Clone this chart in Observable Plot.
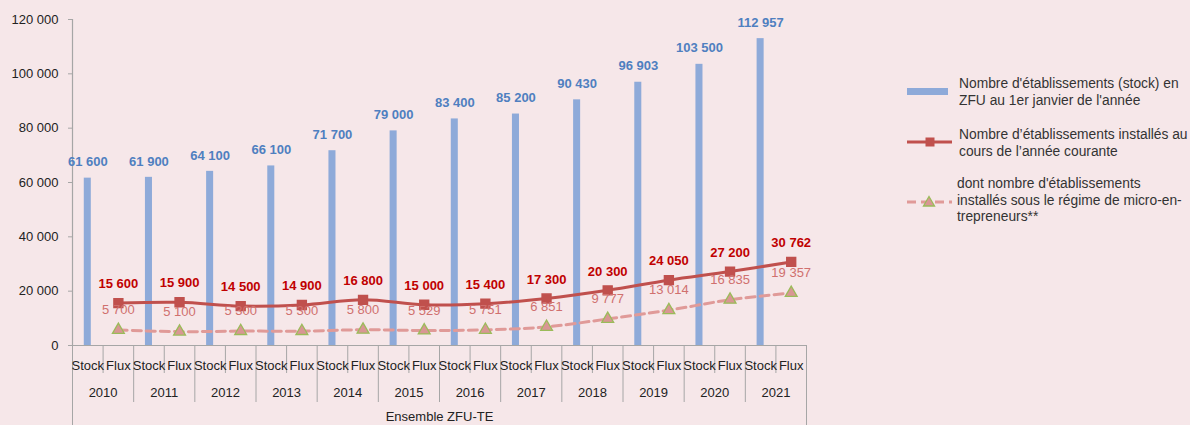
<!DOCTYPE html>
<html>
<head>
<meta charset="utf-8">
<script src="https://cdn.jsdelivr.net/npm/d3@7"></script>
<script src="https://cdn.jsdelivr.net/npm/@observablehq/plot@0.6"></script>
<style>
  html, body { margin: 0; padding: 0; background: #f6e7e9; }
  #wrap { position: relative; width: 1190px; height: 425px; overflow: hidden; background: #f6e7e9; font-family: "Liberation Sans", Arial, sans-serif; }
  #legend { position: absolute; left: 905px; top: 0; width: 285px; font-size: 13.8px; color: #333; line-height: 16.5px; }
  .item { position: absolute; left: 0; width: 285px; }
  .item svg { position: absolute; left: 0; }
  .item div { position: absolute; left: 53px; white-space: nowrap; }
</style>
</head>
<body>
<div id="wrap">
  <div id="chart"></div>
  <div id="legend"></div>
</div>
<script>
// ---- data ----
const years = [2010, 2011, 2012, 2013, 2014, 2015, 2016, 2017, 2018, 2019, 2020, 2021];
const stock = [61600, 61900, 64100, 66100, 71700, 79000, 83400, 85200, 90430, 96903, 103500, 112957];
const flux = [15600, 15900, 14500, 14900, 16800, 15000, 15400, 17300, 20300, 24050, 27200, 30762];
const micro = [5700, 5100, 5300, 5300, 5800, 5529, 5751, 6851, 9777, 13014, 16835, 19357];
const slotLabels = ["Stock", "Flux"];
const groupLabel = "Ensemble ZFU-TE";
const yTicks = [0, 20000, 40000, 60000, 80000, 100000, 120000];
const legendLabels = [
  "Nombre d'établissements (stock) en<br>ZFU au 1er janvier de l'année",
  "Nombre d’établissements installés au<br>cours de l’année courante",
  "dont nombre d'établissements<br>installés sous le régime de micro-en-<br>trepreneurs**"
];

// ---- styles ----
const C = {
  bar: "#8eaad9", barLabel: "#4f7fc0",
  red: "#c0504d", redLabel: "#c00000",
  pink: "#e09a98", pinkLabel: "#d0706e",
  triFill: "#d99694", triStroke: "#9bbb59",
  axis: "#a6a6a6", text: "#222"
};
const fmt = d => d3.format(",")(d).replace(/,/g, " ");

const rows = years.map((y, i) => ({
  year: y, i,
  xs: 2 * i + 0.5, xf: 2 * i + 1.5,
  stock: stock[i], flux: flux[i], micro: micro[i]
}));
const slots = rows.flatMap(r => [{x: r.xs, label: slotLabels[0]}, {x: r.xf, label: slotLabels[1]}]);
const nSlots = years.length * 2;
const yearBounds = d3.range(0, nSlots + 1, 2);
const minorBounds = d3.range(1, nSlots, 2);

const font = "Liberation Sans, Arial, sans-serif";

const chart = Plot.plot({
  width: 1190,
  height: 425,
  marginLeft: 72,
  marginRight: 384,
  marginTop: 19,
  marginBottom: 80,
  style: {background: "transparent", fontFamily: font, fontSize: "13px", color: C.text, overflow: "visible"},
  x: {type: "linear", domain: [0, nSlots], axis: null},
  y: {domain: [0, 120000], axis: null},
  marks: [
    // y axis
    Plot.axisY({ticks: yTicks, tickSize: 4, tickPadding: 10, tickFormat: fmt, stroke: C.axis, fill: C.text, fontSize: 13, label: null}),
    // x separators
    Plot.axisX({ticks: [0, nSlots], tickSize: 80, tickFormat: () => "", stroke: C.axis, label: null}),
    Plot.axisX({ticks: yearBounds, tickSize: 57, tickFormat: () => "", stroke: C.axis, label: null}),
    Plot.axisX({ticks: minorBounds, tickSize: 28, tickFormat: () => "", stroke: C.axis, label: null}),
    // bars
    Plot.rectY(rows, {x1: d => d.xs - 0.115, x2: d => d.xs + 0.115, y1: 0, y2: "stock", fill: C.bar}),
    // axis lines
    Plot.ruleY([0], {stroke: C.axis, strokeWidth: 1.2}),
    Plot.ruleX([0], {y1: 0, y2: 120000, stroke: C.axis, strokeWidth: 1.2}),
    // lines
    Plot.line(rows, {x: "xf", y: "micro", stroke: C.pink, strokeWidth: 3, strokeDasharray: "9,5", curve: "catmull-rom"}),
    Plot.line(rows, {x: "xf", y: "flux", stroke: C.red, strokeWidth: 3, curve: "catmull-rom"}),
    Plot.dot(rows, {x: "xf", y: "micro", symbol: "triangle", r: 4.4, fill: C.triFill, stroke: C.triStroke, strokeWidth: 1.3}),
    Plot.dot(rows, {x: "xf", y: "flux", symbol: "square", r: 5, fill: C.red, stroke: C.red}),
    // value labels
    Plot.text(rows, {x: "xs", y: "stock", text: d => fmt(d.stock), dy: -16, fill: C.barLabel, fontWeight: "bold", fontSize: 13, lineAnchor: "middle"}),
    Plot.text(rows, {x: "xf", y: "flux", text: d => fmt(d.flux), dy: -19, fill: C.redLabel, fontWeight: "bold", fontSize: 13, lineAnchor: "middle"}),
    Plot.text(rows, {x: "xf", y: "micro", text: d => fmt(d.micro), dy: -20, fill: C.pinkLabel, fontSize: 13, lineAnchor: "middle"}),
    // x category labels
    Plot.text(slots, {x: "x", text: "label", frameAnchor: "bottom", dy: 20, fill: C.text, fontSize: 13, lineAnchor: "middle"}),
    Plot.text(rows, {x: d => 2 * d.i + 1, text: d => String(d.year), frameAnchor: "bottom", dy: 47, fill: C.text, fontSize: 13, lineAnchor: "middle"}),
    Plot.text([groupLabel], {x: () => nSlots / 2, text: d => d, frameAnchor: "bottom", dy: 71, fill: C.text, fontSize: 13, lineAnchor: "middle"})
  ]
});
document.getElementById("chart").appendChild(chart);

// ---- legend ----
const legend = document.getElementById("legend");
const items = [
  {top: 76, swatch: `<svg width="50" height="20" style="top:6px"><rect x="2" y="6" width="41" height="7" fill="${C.bar}"/></svg>`},
  {top: 127, swatch: `<svg width="50" height="20" style="top:5px"><line x1="2" y1="10" x2="47" y2="10" stroke="${C.red}" stroke-width="3"/><rect x="20.5" y="5.5" width="9" height="9" fill="${C.red}"/></svg>`},
  {top: 176, swatch: `<svg width="50" height="20" style="top:16px"><line x1="2" y1="10" x2="47" y2="10" stroke="${C.pink}" stroke-width="3" stroke-dasharray="9,5"/><path d="M24,4.5 L29.5,14 L18.5,14 Z" fill="${C.triFill}" stroke="${C.triStroke}" stroke-width="1.3"/></svg>`}
];
items.forEach((it, k) => {
  const el = document.createElement("div");
  el.className = "item";
  el.style.top = it.top + "px";
  el.innerHTML = it.swatch + `<div style="left:${k === 2 ? 52 : 54}px">${legendLabels[k]}</div>`;
  legend.appendChild(el);
});
</script>
</body>
</html>
